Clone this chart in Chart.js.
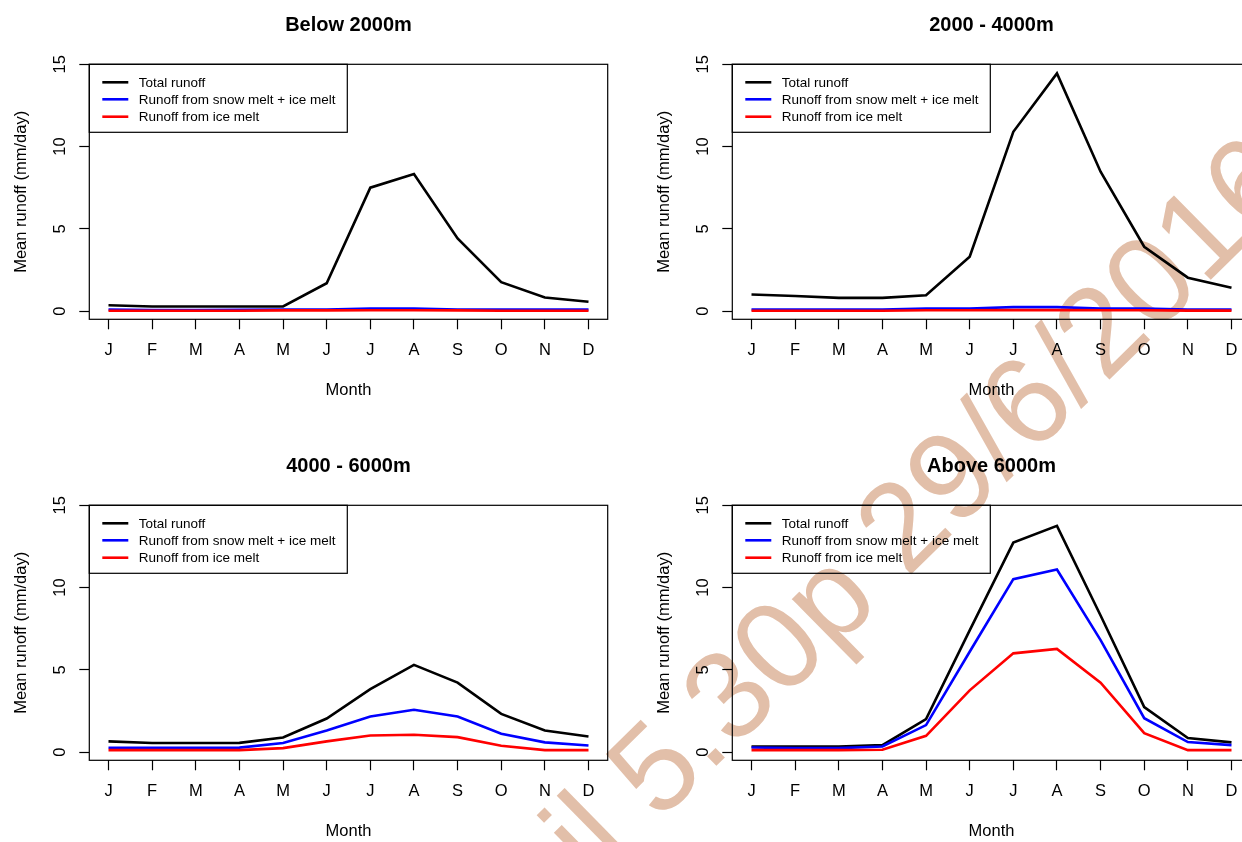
<!DOCTYPE html>
<html>
<head>
<meta charset="utf-8">
<title>Mean runoff by elevation band</title>
<script src="https://cdn.jsdelivr.net/npm/chart.js@4.4.1/dist/chart.umd.min.js"></script>
<style>
  html, body { margin: 0; padding: 0; background: #fff; overflow: hidden; }
  #page { position: relative; width: 1242px; height: 842px; overflow: hidden; background: #fff; }
  #stamp { position: absolute; left: 0; top: 0; }
  .panel { position: absolute; width: 643px; height: 441px; }
</style>
</head>
<body>
<div id="page">
  <canvas id="stamp" width="1242" height="842"></canvas>
  <div class="panel" style="left:0;top:0"><canvas id="chart1" width="643" height="441"></canvas></div>
  <div class="panel" style="left:643px;top:0"><canvas id="chart2" width="643" height="441"></canvas></div>
  <div class="panel" style="left:0;top:441px"><canvas id="chart3" width="643" height="441"></canvas></div>
  <div class="panel" style="left:643px;top:441px"><canvas id="chart4" width="643" height="441"></canvas></div>
</div>
<script>
const monthLabels = ["J", "F", "M", "A", "M", "J", "J", "A", "S", "O", "N", "D"];
const monthNumbers = [1, 2, 3, 4, 5, 6, 7, 8, 9, 10, 11, 12];
const yTickValues = [0, 5, 10, 15];
const seriesNames = ["Total runoff", "Runoff from snow melt + ice melt", "Runoff from ice melt"];
const panelTitles = ["Below 2000m", "2000 - 4000m", "4000 - 6000m", "Above 6000m"];

// mean runoff (mm/day) per month
const totalBelow2000 = [0.35, 0.28, 0.28, 0.28, 0.28, 1.69, 7.5, 8.33, 4.41, 1.76, 0.82, 0.57];
const snowIceBelow2000 = [0.1, 0.06, 0.06, 0.07, 0.1, 0.1, 0.16, 0.16, 0.1, 0.1, 0.1, 0.1];
const iceBelow2000 = [0.02, 0.02, 0.02, 0.02, 0.04, 0.04, 0.05, 0.05, 0.04, 0.02, 0.02, 0.02];

const total2000to4000 = [1.01, 0.92, 0.8, 0.8, 0.96, 3.3, 10.9, 14.45, 8.47, 3.91, 2.03, 1.42];
const snowIce2000to4000 = [0.1, 0.1, 0.1, 0.1, 0.16, 0.16, 0.24, 0.24, 0.16, 0.16, 0.1, 0.1];
const ice2000to4000 = [0.02, 0.02, 0.02, 0.02, 0.05, 0.05, 0.06, 0.06, 0.05, 0.05, 0.03, 0.03];

const total4000to6000 = [0.65, 0.55, 0.55, 0.56, 0.89, 2.04, 3.82, 5.3, 4.22, 2.32, 1.31, 0.95];
const snowIce4000to6000 = [0.26, 0.26, 0.26, 0.27, 0.55, 1.31, 2.16, 2.57, 2.16, 1.11, 0.59, 0.4];
const ice4000to6000 = [0.12, 0.12, 0.12, 0.12, 0.24, 0.65, 1.01, 1.05, 0.91, 0.38, 0.12, 0.12];

const totalAbove6000 = [0.34, 0.34, 0.34, 0.42, 2.0, 7.4, 12.73, 13.75, 8.3, 2.73, 0.85, 0.59];
const snowIceAbove6000 = [0.28, 0.24, 0.24, 0.34, 1.64, 6.1, 10.51, 11.1, 6.81, 2.06, 0.61, 0.42];
const iceAbove6000 = [0.12, 0.12, 0.12, 0.14, 0.99, 3.75, 6.0, 6.27, 4.22, 1.15, 0.12, 0.12];

const FONT = "'Liberation Sans', Arial, sans-serif";
const lineColors = ["#000000", "#0000ff", "#ff0000"];

Chart.defaults.color = "#000";

// R style frame around the plot region plus the boxed legend in the top left corner
const frameAndLegend = {
  id: "frameAndLegend",
  afterDraw(chart) {
    const { ctx, chartArea: a } = chart;
    ctx.save();
    ctx.strokeStyle = "#000";
    ctx.lineWidth = 1.2;
    ctx.strokeRect(a.left, a.top, a.right - a.left, a.bottom - a.top);

    ctx.strokeRect(a.left, a.top, 258, 68);
    ctx.font = "13.5px " + FONT;
    ctx.textBaseline = "middle";
    ctx.textAlign = "left";
    const rows = [18, 35, 52.4];
    chart.data.datasets.forEach((ds, i) => {
      const y = a.top + rows[i];
      ctx.strokeStyle = ds.borderColor;
      ctx.lineWidth = 2.6;
      ctx.beginPath();
      ctx.moveTo(a.left + 13, y);
      ctx.lineTo(a.left + 39, y);
      ctx.stroke();
      ctx.fillStyle = "#000";
      ctx.fillText(ds.label, a.left + 49.5, y + 0.5);
    });
    ctx.restore();
  }
};

function makeChart(id, title, series) {
  const datasets = series.map((vals, i) => ({
    label: seriesNames[i],
    data: vals.map((v, k) => ({ x: monthNumbers[k], y: v })),
    borderColor: lineColors[i],
    borderWidth: 2.6,
    pointRadius: 0,
    tension: 0,
    fill: false,
    order: 3 - i
  }));

  return new Chart(document.getElementById(id), {
    type: "line",
    data: { datasets },
    options: {
      responsive: false,
      animation: false,
      events: [],
      layout: { padding: { left: 0, right: 35.3, top: 0, bottom: 0 } },
      plugins: {
        legend: { display: false },
        tooltip: { enabled: false },
        title: {
          display: true,
          fullSize: false,
          text: title,
          color: "#000",
          font: { family: FONT, size: 20, weight: "bold" },
          padding: { top: 13, bottom: 27.3 }
        }
      },
      scales: {
        x: {
          type: "linear",
          min: 0.56,
          max: 12.44,
          afterBuildTicks: s => { s.ticks = monthNumbers.map(v => ({ value: v })); },
          afterFit: s => { s.height = 121.7; },
          grid: { drawOnChartArea: false, tickLength: 10, tickColor: "#000", tickWidth: 1.2 },
          border: { display: false },
          ticks: {
            autoSkip: false,
            maxRotation: 0,
            padding: 11.5,
            color: "#000",
            font: { family: FONT, size: 16.5 },
            callback: v => monthLabels[v - 1]
          },
          title: {
            display: true,
            text: "Month",
            color: "#000",
            font: { family: FONT, size: 16.5 },
            padding: { top: 0, bottom: 41 }
          }
        },
        y: {
          type: "linear",
          min: -0.5,
          max: 15,
          afterBuildTicks: s => { s.ticks = yTickValues.map(v => ({ value: v })); },
          afterFit: s => { s.width = 89.3; },
          grid: { drawOnChartArea: false, tickLength: 10, tickColor: "#000", tickWidth: 1.2 },
          border: { display: false },
          ticks: {
            autoSkip: false,
            minRotation: 90,
            maxRotation: 90,
            crossAlign: "center",
            padding: 10,
            color: "#000",
            font: { family: FONT, size: 16.5 }
          },
          title: {
            display: true,
            text: "Mean runoff (mm/day)",
            color: "#000",
            font: { family: FONT, size: 16.5 },
            padding: { top: 11.8, bottom: 0 }
          }
        }
      }
    },
    plugins: [frameAndLegend]
  });
}

function drawStamp() {
  const ctx = document.getElementById("stamp").getContext("2d");
  const text = "il 5.30p 29/6/2016";
  ctx.save();
  ctx.font = "125px " + FONT;
  ctx.fillStyle = "rgb(226, 191, 169)";
  ctx.translate(652, 766);
  ctx.rotate(-44.5 * Math.PI / 180);
  const lead = ctx.measureText("il ").width + ctx.measureText("5").width / 2;
  ctx.fillText(text, -lead, 45);
  ctx.restore();
}

document.addEventListener("DOMContentLoaded", () => {
  drawStamp();
  makeChart("chart1", panelTitles[0], [totalBelow2000, snowIceBelow2000, iceBelow2000]);
  makeChart("chart2", panelTitles[1], [total2000to4000, snowIce2000to4000, ice2000to4000]);
  makeChart("chart3", panelTitles[2], [total4000to6000, snowIce4000to6000, ice4000to6000]);
  makeChart("chart4", panelTitles[3], [totalAbove6000, snowIceAbove6000, iceAbove6000]);
});
</script>
</body>
</html>
